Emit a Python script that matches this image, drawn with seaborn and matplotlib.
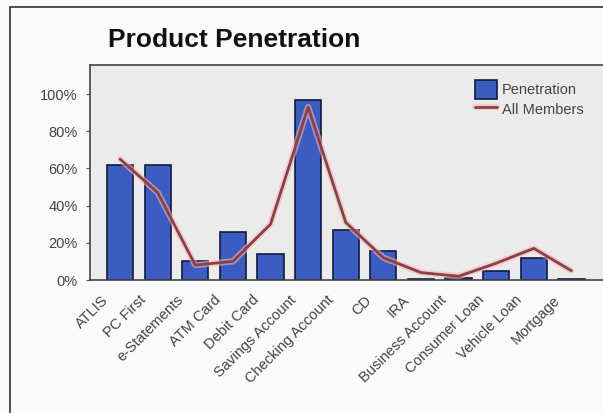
import matplotlib
matplotlib.use("Agg")
import matplotlib.pyplot as plt
import matplotlib.patheffects as pe
import matplotlib.transforms as mtrans
from matplotlib.patches import Rectangle
from matplotlib.ticker import PercentFormatter
import numpy as np
import pandas as pd
import seaborn as sns

# data
categories = ["ATLIS", "PC First", "e-Statements", "ATM Card", "Debit Card",
              "Savings Account", "Checking Account", "CD", "IRA",
              "Business Account", "Consumer Loan", "Vehicle Loan", "Mortgage"]
penetration = [0.62, 0.62, 0.10, 0.26, 0.14, 0.97, 0.27, 0.155, 0.005,
               0.012, 0.05, 0.12, 0.004]
all_members = [0.65, 0.47, 0.08, 0.10, 0.30, 0.93, 0.31, 0.12, 0.04,
               0.02, 0.09, 0.17, 0.05]
yticks = [0, 0.2, 0.4, 0.6, 0.8, 1.0]

df = pd.DataFrame({"category": categories, "pen": penetration,
                   "all": all_members, "pos": np.arange(len(categories))})

sns.set_style("white")
plt.rcParams["font.family"] = ["Liberation Sans", "DejaVu Sans"]

fig = plt.figure(figsize=(6.03, 4.13), dpi=100, facecolor="#fafafa")
# outer frame of the chart
fig.patches.append(Rectangle((10 / 603, -0.1), 1.2, 1 - 7 / 413 + 0.1,
                             transform=fig.transFigure, fill=False,
                             edgecolor="#333333", linewidth=1.2))

ax = fig.add_axes([90 / 603, (413 - 280) / 413, 0.86, 215 / 413])
ax.set_facecolor("#ebebeb")

sns.barplot(data=df, x="category", y="pen", ax=ax, color="#3b5cc0",
            edgecolor="#141a3c", linewidth=1.2, width=0.7, saturation=1,
            label="Penetration")
glow = [pe.Stroke(linewidth=4.5, foreground="#f4b8b8", alpha=0.6), pe.Normal()]
sns.lineplot(data=df, x="pos", y="all", ax=ax, color="#8a4046",
             linewidth=2, label="All Members", path_effects=glow)

ax.set_xlim(-0.8, 12.99)
ax.set_ylim(0, 1.156)
ax.set_yticks(yticks)
ax.yaxis.set_major_formatter(PercentFormatter(1.0, decimals=0))
ax.set_xlabel("")
ax.set_ylabel("")
ax.set_xticks(df["pos"])
ax.set_xticklabels([])
# category labels, rotated and pulled a little left of each bar
lbl_tr = ax.get_xaxis_transform() + mtrans.ScaledTranslation(
    -19 / 100, -13 / 100, fig.dpi_scale_trans)
for p, name in zip(df["pos"], categories):
    ax.text(p, 0, name, transform=lbl_tr, rotation=45, ha="right", va="top",
            rotation_mode="anchor", fontsize=10.5, color="#444444")
ax.tick_params(axis="y", labelsize=10.5, labelcolor="#444444", left=True,
               length=3, color="#555555", pad=6)
ax.tick_params(axis="x", bottom=False)
for side in ["left", "top", "bottom"]:
    ax.spines[side].set_color("#444444")
    ax.spines[side].set_linewidth(1.2)
ax.spines["right"].set_visible(False)

handles, labels = ax.get_legend_handles_labels()
order = [labels.index("Penetration"), labels.index("All Members")]
leg = ax.legend([handles[i] for i in order], [labels[i] for i in order],
                loc="upper left", bbox_to_anchor=(0.742, 0.93),
                frameon=False, fontsize=10.5, handlelength=1.5,
                handleheight=1.6, handletextpad=0.35, labelspacing=0.05,
                borderaxespad=0, borderpad=0)
for t in leg.get_texts():
    t.set_color("#444444")

fig.text(108 / 603, 1 - 40 / 413, "Product Penetration", fontsize=19,
         fontweight="bold", va="center", ha="left", color="#111111")

fig.savefig("out.png", dpi=100, facecolor=fig.get_facecolor())
